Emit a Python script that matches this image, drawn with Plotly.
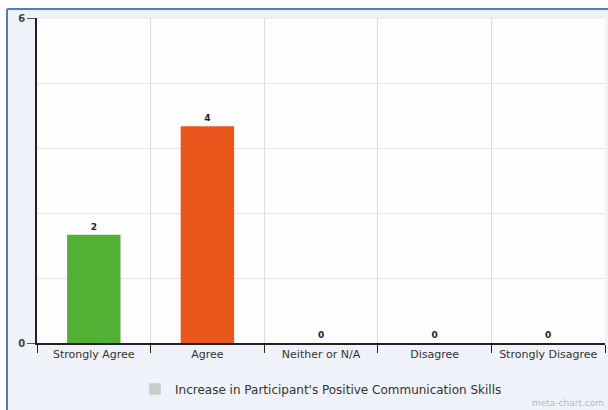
import plotly.graph_objects as go

# Survey responses
categories = ["Strongly Agree", "Agree", "Neither or N/A", "Disagree", "Strongly Disagree"]
counts = [2, 4, 0, 0, 0]
bar_colors = ["#52b034", "#ea571c", "#7f7f7f", "#7f7f7f", "#7f7f7f"]
series_name = "Increase in Participant's Positive Communication Skills"
y_tick_values = [0, 6]
y_grid_values = [1.2, 2.4, 3.6, 4.8]

W, H = 608, 410
left, right, top, bottom = 37, 3, 18, 67
plot_w = W - left - right
plot_h = H - top - bottom


def px_x(px):
    return (px - left) / plot_w


def px_y(py):
    return (H - bottom - py) / plot_h


fig = go.Figure()
fig.add_trace(go.Bar(
    x=categories, y=counts,
    marker=dict(color=bar_colors, line=dict(width=0)),
    width=0.47,
    text=[str(v) for v in counts],
    textposition="outside",
    textfont=dict(family="DejaVu Sans", size=9, color="#222222"),
    texttemplate="<b>%{text}</b>",
    cliponaxis=False,
    showlegend=False,
    hoverinfo="skip",
))
# Legend entry for the series
fig.add_trace(go.Bar(
    x=[categories[0]], y=[None], name=series_name,
    marker=dict(color="#c9cdc9"), showlegend=True,
))

fig.update_layout(
    width=W, height=H,
    margin=dict(l=left, r=right, t=top, b=bottom),
    paper_bgcolor="#ffffff",
    plot_bgcolor="#fdfdfd",
    font=dict(family="DejaVu Sans", size=11, color="#333333"),
    barmode="overlay",
    legend=dict(
        orientation="h", x=0.5, xanchor="center",
        y=px_y(389), yanchor="middle",
        font=dict(size=12, color="#333333"),
        bgcolor="rgba(0,0,0,0)",
    ),
    xaxis=dict(
        type="category",
        tickson="boundaries",
        showgrid=True, gridcolor="#dcdcdc", gridwidth=1,
        ticks="outside", ticklen=8, tickcolor="#222222",
        showline=True, linecolor="#222222", linewidth=1.5,
        tickfont=dict(size=11, color="#333333"),
        fixedrange=True,
    ),
    yaxis=dict(
        range=[0, 6],
        tickvals=y_tick_values,
        ticktext=["<b>0</b>", "<b>6</b>"],
        ticks="outside", ticklen=8, tickcolor="#555555",
        showline=True, linecolor="#222222", linewidth=1.5,
        showgrid=False, zeroline=False,
        tickfont=dict(size=10, color="#444444"),
        minor=dict(tickvals=y_grid_values, showgrid=True,
                   gridcolor="#e6e6e6", gridwidth=1, ticks=""),
    ),
    shapes=[
        # light blue panel behind the chart
        dict(type="rect", xref="paper", yref="paper", layer="below",
             x0=px_x(7), x1=px_x(W + 2), y0=px_y(9), y1=px_y(H + 2),
             fillcolor="#f0f2f9", line=dict(width=0)),
        # white plotting area on top of the panel
        dict(type="rect", xref="paper", yref="paper", layer="below",
             x0=0, x1=1, y0=0, y1=1,
             fillcolor="#fdfdfd", line=dict(width=0)),
        dict(type="line", xref="paper", yref="paper",
             x0=px_x(7), x1=px_x(W + 2), y0=px_y(9), y1=px_y(9),
             line=dict(color="#4f7db8", width=2)),
        dict(type="line", xref="paper", yref="paper",
             x0=px_x(7), x1=px_x(7), y0=px_y(9), y1=px_y(H + 2),
             line=dict(color="#4f7db8", width=2)),
        # gridline along the top edge of the plot
        dict(type="line", xref="paper", yref="paper",
             x0=0, x1=1, y0=1, y1=1,
             line=dict(color="#e6e6e6", width=1)),
    ],
    annotations=[
        dict(text="meta-chart.com", xref="paper", yref="paper",
             x=px_x(606), y=px_y(403), xanchor="right", yanchor="middle",
             showarrow=False, font=dict(size=9, color="#b5b8c0")),
    ],
)

fig.write_html("out.html")
